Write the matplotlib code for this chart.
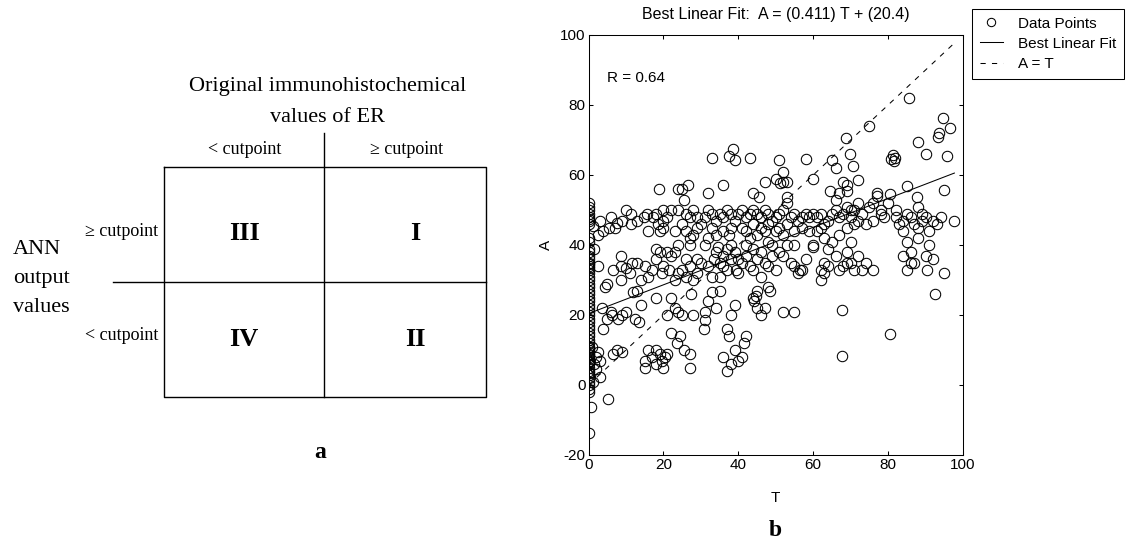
import matplotlib.pyplot as plt
import numpy as np

plt.rcParams['axes.unicode_minus'] = False

# ---- data for panel b ----
# A values of the points that sit on T = 0
a_at_zero = [52, 51, 50, 49, 48, 47.5, 47, 46, 42, 41, 39, 38, 37, 36, 35, 34.5, 34,
             33.5, 33, 32, 31, 30, 29, 28, 27, 26, 25, 24, 23, 22, 21, 20, 19, 18, 17,
             16, 15, 14, 13, 12, 11, 10.5, 10, 9.5, 9, 8.5, 8, 7.5, 7, 6.5, 6, 5, 4,
             3.5, 3, 2, 1, 0, -1, -2, -13.6]

pts_0_10 = [(0.6, -6.4), (5.3, -3.9), (3, 2.4), (2, 8), (1.5, 6), (2.5, 9.5), (3, 7), (1, 11),
            (2, 4.5), (1.2, 1), (6.6, 9), (8.9, 9.5), (7.5, 10), (4, 16), (5, 19), (3.5, 22),
            (4.5, 28), (5, 29), (6, 21), (6.2, 20), (8, 19), (9, 20), (10, 21), (8.8, 30),
            (8.8, 34), (8.8, 37), (2.6, 34), (6.5, 33), (10, 33.5), (1.1, 45.4), (5.6, 45),
            (7.7, 46.3), (3, 47), (1.5, 39), (4, 44), (2.5, 43), (7, 45), (9, 47), (10, 50), (6, 48)]
pts_10_20 = [(11.4, 46), (11.4, 49), (14.7, 48), (12, 26.5), (13, 27), (12.5, 19), (13.5, 18),
             (14, 23), (15, 34), (15, 5), (15, 7), (16, 10), (17, 8), (18, 10), (18, 6), (19, 9),
             (19.5, 7), (20, 5), (20.5, 8), (18, 25), (17.3, 48), (18, 49), (18.7, 55.9), (19, 44),
             (18, 39), (13, 35), (16, 31), (17, 33), (18, 36), (19, 38), (20, 34), (14, 30),
             (16, 44), (18.5, 46), (20, 47), (20, 50), (19.5, 32), (15.5, 49), (13, 47), (11, 32),
             (11.5, 35)]
pts_20_30 = [(20, 45), (21.5, 33), (22, 37), (23, 38), (21, 20), (22, 25), (23, 22), (24, 21),
             (25, 20), (24.5, 14), (25.5, 10), (27, 5), (27, 9), (22, 15), (23.6, 12), (21, 9),
             (24, 40), (23, 44), (25, 46), (26, 44), (27, 42), (28, 43), (29, 45), (21, 48),
             (22, 50), (23.8, 56), (24, 50), (25, 56), (26, 49), (26.7, 57.1), (25.4, 52.9),
             (27, 48), (28, 50), (29, 48), (30, 46), (24, 32), (25, 33), (26, 31), (27, 34),
             (28, 30), (29, 32), (27.5, 26), (28, 20), (29, 36), (30, 35), (26, 36), (23, 30),
             (21, 38), (27, 40)]
pts_30_40 = [(30.9, 16), (31, 18.5), (31, 21), (31.9, 54.8), (33, 64.8), (32, 24), (33, 26.5),
             (34, 22), (35, 27), (33.5, 36), (34, 38), (35, 35), (36, 37), (36, 34), (37, 33),
             (38, 36), (39, 38), (37, 39), (38, 40), (31, 40), (32, 42), (33, 45), (34, 47),
             (35, 49), (36, 48), (37, 50), (38, 49), (39, 47), (35.9, 57.1), (38.6, 67.3),
             (37.4, 65.4), (39.2, 64.3), (36, 44), (37.5, 43), (38, 45), (34, 43), (31, 48),
             (32, 50), (33, 49), (37, 4), (38, 6), (39, 10), (40, 7), (37.5, 14), (38, 20),
             (39, 23), (37, 16), (36, 8), (35, 31), (32, 34), (40, 32), (33, 31), (34.5, 39.5),
             (39.5, 33)]
pts_40_50 = [(41, 8), (41.5, 12), (42, 14), (44, 25), (44.3, 24), (44.7, 25.5), (45, 22), (46, 20),
             (47, 22), (45, 27), (48, 28), (48.5, 27), (43, 64.8), (43.8, 54.8), (45.6, 53.8),
             (47, 58), (50, 59), (40, 49), (41, 50), (42, 48), (43, 49), (44, 50), (45, 49),
             (46, 48), (47, 50), (48, 49), (49, 47), (50, 48), (41, 45), (42, 44), (43, 42),
             (44, 46), (45, 43), (46, 45), (47, 44), (48, 41), (49, 40), (50, 44), (40, 36),
             (41, 35), (42, 37), (43, 34), (44, 33), (45, 36), (46, 38), (47, 35), (48, 34),
             (49, 37), (50, 33), (42, 40), (44, 39), (46, 31), (48, 46)]
pts_50_60 = [(50.8, 64.3), (52, 61), (52, 58), (51.2, 57.8), (53, 58), (53, 53.8), (53, 52),
             (51, 49), (52, 50), (54, 48), (55, 49), (56, 47), (57, 48), (58, 49), (59, 48),
             (60, 49), (51, 45), (52, 43), (53, 46), (55, 44), (57, 45), (52, 37), (53, 40),
             (54, 35), (55, 34), (56, 32), (56.5, 33), (57, 33), (58, 36), (52, 21), (55, 21),
             (58, 64.5), (60, 59), (59, 44), (55, 40), (51, 38)]
pts_60_70 = [(60, 40), (60, 39.5), (62, 30), (62, 33), (63, 32), (63, 35), (64, 34), (66, 37),
             (67, 33), (68, 34), (69, 35), (69, 38), (64.4, 55.5), (65, 64.3), (66, 61.9),
             (66, 53), (67, 55), (68, 58), (69.1, 57.1), (69, 55.5), (69.8, 65.9), (70.7, 62.7),
             (68.8, 70.5), (72, 58.6), (61, 48), (62, 49), (63, 46), (64, 47), (65, 49), (66, 50),
             (67, 48), (68, 49), (69, 51), (70, 50), (61, 44), (63, 42), (65, 41), (67, 43),
             (69, 45), (67.8, 21.4), (67.8, 8.3), (62, 45), (64, 39)]
pts_70_80 = [(70, 48), (71, 50), (72, 52), (73, 49), (74, 46), (75, 51), (76, 52), (77, 55),
             (77, 54), (78, 50), (79, 48), (80, 52), (70, 35), (71, 33), (72, 37), (73, 33),
             (76, 33), (75, 74), (71, 46), (72, 47), (70, 41), (74, 35), (78, 49), (80.4, 54.6),
             (76, 47)]
pts_80_90 = [(80.7, 64.5), (81.2, 65.7), (81.9, 64.8), (81.5, 64), (85.6, 81.9), (88, 69.5),
             (90, 66), (85, 56.9), (87.7, 53.6), (82, 48), (83, 46), (84, 47), (85, 49), (86, 48),
             (87, 46), (88, 45), (89, 47), (84, 44), (85, 41), (86, 38), (84, 37), (85, 33),
             (86, 35), (88, 42), (90, 37), (91, 40), (92, 36), (80.5, 14.6), (89, 49), (90, 48),
             (87, 35), (82, 50), (88, 51)]
pts_90_100 = [(93.7, 71.9), (93.2, 71), (94.7, 76.2), (96.6, 73.3), (95.6, 65.4), (95, 55.7),
              (97.7, 46.9), (92.6, 26), (95, 32), (91, 44), (92, 47), (93, 46), (90.5, 33), (94, 48)]

slope, intercept = 0.411, 20.4
r_value = 0.64

# ---- text for panel a ----
col_labels = ['< cutpoint', '\u2265 cutpoint']
row_labels = ['\u2265 cutpoint', '< cutpoint']
quadrants = [['III', 'I'], ['IV', 'II']]

rest = pts_0_10 + pts_10_20 + pts_20_30 + pts_30_40 + pts_40_50 + pts_50_60 + pts_60_70 \
    + pts_70_80 + pts_80_90 + pts_90_100
T = np.array([0.0] * len(a_at_zero) + [p[0] for p in rest])
A = np.array(a_at_zero + [p[1] for p in rest])

serif = ['Liberation Serif', 'DejaVu Serif']
matlab = ['Liberation Sans Narrow', 'Liberation Sans', 'DejaVu Sans']

fig = plt.figure(figsize=(11.36, 5.44), dpi=100)

# panel a drawn on a pixel grid covering the whole figure
pa = fig.add_axes([0, 0, 1, 1])
pa.set_xlim(0, 1136)
pa.set_ylim(544, 0)
pa.axis('off')
lw = 1.0
pa.plot([164, 486, 486, 164, 164], [167, 167, 397, 397, 167], color='black', lw=lw)
pa.plot([324, 324], [133, 397], color='black', lw=lw)
pa.plot([113, 486], [282, 282], color='black', lw=lw)
pa.text(328, 87, 'Original immunohistochemical', ha='center', va='center', fontsize=16, family=serif)
pa.text(328, 117, 'values of ER', ha='center', va='center', fontsize=16, family=serif)
for x, lab in zip([245, 407], col_labels):
    pa.text(x, 150, lab, ha='center', va='center', fontsize=13, family=serif)
for y, lab in zip([232, 335], row_labels):
    pa.text(158, y, lab, ha='right', va='center', fontsize=13, family=serif)
for i, y in enumerate([233, 340]):
    for j, x in enumerate([244, 415]):
        pa.text(x, y, quadrants[i][j], ha='center', va='center', fontsize=19,
                fontweight='bold', family=serif)
for y, lab in zip([250, 279, 307], ['ANN', 'output', 'values']):
    pa.text(13, y, lab, ha='left', va='center', fontsize=16, family=serif)
pa.text(320, 452, 'a', ha='center', va='center', fontsize=17, fontweight='bold', family=serif)
pa.text(775, 530, 'b', ha='center', va='center', fontsize=17, fontweight='bold', family=serif)

# panel b
ax = fig.add_axes([588.5 / 1136, 89 / 544, 374.5 / 1136, 420 / 544])
ax.plot(T, A, 'o', mfc='none', mec='black', ms=7.5, mew=0.75, label='Data Points')
tl = np.array([T.min(), T.max()])
ax.plot(tl, slope * tl + intercept, color='black', lw=0.75, label='Best Linear Fit')
ax.plot(tl, tl, color='black', lw=0.75, ls=(0, (5, 6)), label='A = T')
ax.set_xlim(0, 100)
ax.set_ylim(-20, 100)
ax.set_xticks(np.arange(0, 101, 20))
ax.set_yticks(np.arange(-20, 101, 20))
ax.tick_params(direction='in', top=True, right=True, length=3, width=0.75, labelsize=11, pad=2)
for lab in ax.get_xticklabels() + ax.get_yticklabels():
    lab.set_family(matlab)
for s in ax.spines.values():
    s.set_linewidth(0.75)
ax.set_xlabel('T', fontsize=11, family=matlab)
ax.set_ylabel('A', fontsize=11, family=matlab)
ax.xaxis.set_label_coords(0.5, -0.085)
ax.yaxis.set_label_coords(-0.095, 0.5)
ax.text(0.5, 1.048, 'Best Linear Fit:  A = (%.3f) T + (%.1f)' % (slope, intercept),
        transform=ax.transAxes, ha='center', va='center', fontsize=11.5, family=matlab)
ax.text(4.9, 87.7, 'R = %.2f' % r_value, ha='left', va='center', fontsize=11, family=matlab)

h, l = ax.get_legend_handles_labels()
leg = fig.legend(h, l, loc='upper left', bbox_to_anchor=(972 / 1136, 1 - 9 / 544),
                 prop={'family': matlab, 'size': 11}, frameon=True, fancybox=False,
                 edgecolor='black', framealpha=1, borderpad=0.5, labelspacing=0.4,
                 handlelength=1.5, handletextpad=1.0, borderaxespad=0, markerscale=0.8)
leg.get_frame().set_linewidth(0.75)

fig.savefig('out.png', dpi=100)
